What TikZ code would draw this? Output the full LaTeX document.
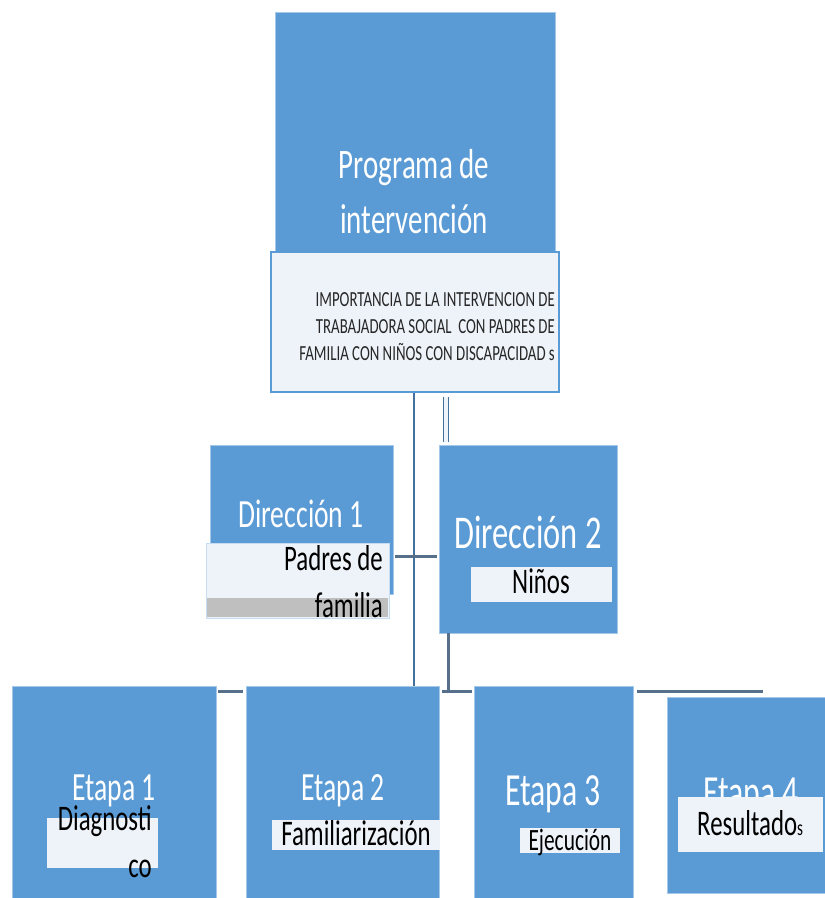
\documentclass[tikz,border=0pt]{standalone}
\usepackage{fontspec}
\setmainfont{Carlito}[FakeStretch=0.69]
\usetikzlibrary{calc}
\definecolor{blu}{HTML}{5B9BD5}
\definecolor{lite}{HTML}{EEF3FA}
\definecolor{ln}{HTML}{41719C}
\definecolor{lnb}{HTML}{56708C}
\definecolor{gr}{HTML}{BFBFBF}
\definecolor{dk}{HTML}{262626}
\newcommand{\fs}[2]{\fontsize{#1}{#2}\selectfont}
\begin{document}
\begin{tikzpicture}[x=1pt,y=-1pt,
  box/.style={anchor=north west,inner sep=0pt,outer sep=0pt,minimum width=#1},
  bluebox/.style={box=#1,fill=blu,draw=blu!55!white,line width=0.8pt},
  labbox/.style={box=#1,fill=lite,draw=none},
  wtxt/.style={text=white,inner sep=0pt,anchor=base},
  ktxt/.style={text=black,inner sep=0pt,anchor=base},
  thinconn/.style={draw=ln,line width=1.4pt},
  thickconn/.style={draw=lnb,line width=3pt},
  dblconn/.style={draw=ln,line width=1.4pt,double=lite,double distance=3.5pt}]
\useasboundingbox (0,0) rectangle (825,898);
\fill[white] (0,0) rectangle (825,898);

% top
\node[bluebox=280pt,minimum height=243pt] (prog) at (275,12) {};
\node[box=288pt,minimum height=140pt,fill=lite,draw=blu,line width=1.6pt] (sub) at (271,252) {};
\node[wtxt,align=center,font=\fs{42}{55}] (progt) at (414,233) {Programa de\\intervención};
\node[ktxt,anchor=base east,align=right,text=dk,font=\fs{21.5}{27}] (subt) at (555,360)
  {IMPORTANCIA DE LA INTERVENCION DE\\TRABAJADORA SOCIAL\ \ CON PADRES DE\\FAMILIA CON NIÑOS CON DISCAPACIDAD s};

% level 2
\node[bluebox=183pt,minimum height=149pt] (dir1) at (210,445) {};
\node[bluebox=178pt,minimum height=188pt] (dir2) at (439,445) {};
\node[wtxt,font=\fs{40}{48}] (dir1t) at (301,527) {Dirección 1};
\node[box=183pt,minimum height=75pt,fill=lite,draw=blu!35!white,line width=0.8pt] (dir1l) at (206,543) {};
\fill[gr] ($(dir1l.south west)+(1,-20)$) rectangle ($(dir1l.south east)+(-1,-1)$);
\node[ktxt,anchor=base east,align=right,font=\fs{36}{47}] (dir1lt) at (383,617) {Padres de\\familia};
\node[wtxt,font=\fs{47}{56}] (dir2t) at (528,548) {Dirección 2};
\node[labbox=141pt,minimum height=35pt] (dir2l) at (471,567) {};
\node[ktxt,font=\fs{36}{44}] (dir2lt) at (541,593) {Niños};

% level 3
\node[bluebox=204pt,minimum height=214pt] (et1) at (12,686) {};
\node[bluebox=193pt,minimum height=214pt] (et2) at (246,686) {};
\node[bluebox=159pt,minimum height=214pt] (et3) at (474,686) {};
\node[bluebox=160pt,minimum height=196pt] (et4) at (667,697) {};

\node[wtxt,font=\fs{40}{48}] (et1t) at (114,800) {Etapa 1};
\node[labbox=111pt,minimum height=50pt] (et1l) at (47,818) {};
\node[ktxt,anchor=base east,align=right,font=\fs{36}{47}] (et1lt) at (152,877) {Diagnosti\\co};

\node[wtxt,font=\fs{40}{48}] (et2t) at (343,800) {Etapa 2};
\node[labbox=168pt,minimum height=30pt] (et2l) at (272,820) {};
\node[ktxt,font=\fs{36}{44}] (et2lt) at (356,845) {Familiarización};

\node[wtxt,font=\fs{46}{54}] (et3t) at (553,805) {Etapa 3};
\node[labbox=100pt,minimum height=25pt] (et3l) at (520,828) {};
\node[ktxt,font=\fs{31}{38}] (et3lt) at (570,850) {Ejecución};

\node[wtxt,font=\fs{46}{54}] (et4t) at (751,807) {Etapa 4};
\node[labbox=145pt,minimum height=55pt] (et4l) at (678,797) {};
\node[ktxt,anchor=base west,font=\fs{36}{44}] (et4lt) at (697,835) {Resultado{\fs{22}{26}s}};

% connectors
\draw[thinconn] ($(sub.south)+(-1,1)$) -- ($(sub.south |- et2.north)+(-1,0)$);
\draw[dblconn] ($(sub.south)+(31,5)$) -- ($(sub.south |- dir2.north)+(31,-3)$);
\draw[thickconn] ($(dir1.south east)+(2,-38)$) -- ($(dir2.south west)+(-2,-77)$);
\draw[thickconn] ($(dir2.south west)+(9,0)$) -- ($(dir2.south west)+(9,57)$);
\draw[thickconn] ($(et2.north east)+(3,5)$) -- ($(et3.north west)+(-2,5)$);
\draw[thickconn] ($(et1.north east)+(2,5)$) -- ($(et2.north west)+(-3,5)$);
\draw[thickconn] ($(et3.north east)+(4,5)$) -- ($(et4.north west)+(96,-6)$);
\end{tikzpicture}
\end{document}
